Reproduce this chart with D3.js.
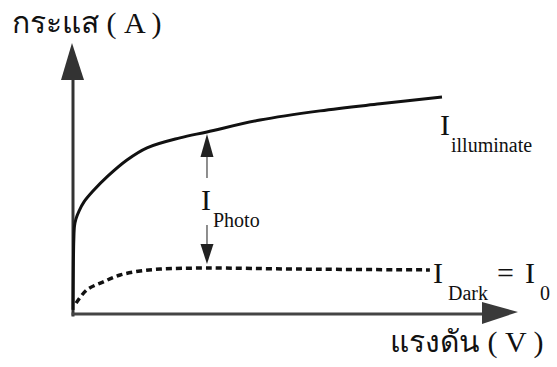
<!DOCTYPE html>
<meta charset="utf-8">
<title>I-V</title>
<style>
body { margin: 0; background: #fff; font-family: "Times New Roman", "Liberation Serif", serif; }
</style>
<body></body>
<script src="https://cdn.jsdelivr.net/npm/d3@7"></script>
<script>
var width = 557,
    height = 367;

// voltage (arbitrary units) and current readings for each curve
var illumV = [0, 0.007, 0.018, 0.034, 0.067, 0.135, 0.247, 0.449, 0.787, 1.213, 1.663, 2.404, 3.011, 4.202, 5.551, 6.899, 8.292];
var illumI = [0.19, 1.67, 2.78, 3.30, 3.56, 3.85, 4.19, 4.59, 5.15, 5.74, 6.19, 6.56, 6.78, 7.22, 7.56, 7.82, 8.07];
var darkV = [0.07, 0.31, 0.67, 1.06, 1.51, 1.96, 3.01, 5.10, 8.02];
var darkI = [0.44, 0.93, 1.22, 1.48, 1.63, 1.70, 1.74, 1.70, 1.67];
var photoV = 3.011, photoTop = 6.78, photoBot = 1.74; // I_Photo arrow

var svg = d3.select("body").append("svg")
    .attr("width", width)
    .attr("height", height)
    .attr("font-family", "Times New Roman, Liberation Serif, serif");

var x = d3.scaleLinear().domain([0, 10]).range([73, 518]);
var y = d3.scaleLinear().domain([0, 10]).range([315, 45]);

var line = d3.line()
    .x(function(d) { return x(d[0]); })
    .y(function(d) { return y(d[1]); })
    .curve(d3.curveCatmullRom.alpha(0.5));

// axes (no ticks, just arrows)
svg.append("line")
    .attr("x1", x(0)).attr("y1", y(0) + 1.5)
    .attr("x2", x(0)).attr("y2", 80)
    .attr("stroke", "#333").attr("stroke-width", 3);
svg.append("path")
    .attr("d", "M" + (x(0) - 12) + ",80L" + (x(0) - 1) + ",43L" + (x(0) + 11) + ",80Z")
    .attr("fill", "#333");

svg.append("line")
    .attr("x1", x(0) - 1.5).attr("y1", 314)
    .attr("x2", 484).attr("y2", 314)
    .attr("stroke", "#444").attr("stroke-width", 3);
svg.append("path")
    .attr("d", "M482,302L" + x(10) + ",312L482,324Z")
    .attr("fill", "#3a3a3a");

// curves
svg.append("path")
    .datum(d3.zip(illumV, illumI))
    .attr("d", line)
    .attr("fill", "none")
    .attr("stroke", "#111")
    .attr("stroke-width", 3);

svg.append("path")
    .datum(d3.zip(darkV, darkI))
    .attr("d", line)
    .attr("fill", "none")
    .attr("stroke", "#111")
    .attr("stroke-width", 3.5)
    .attr("stroke-dasharray", "6,4");

// I_photo double arrow
var ax = x(photoV),
    aTop = y(photoTop) + 2,
    aBot = y(photoBot) - 4;
svg.append("path")
    .attr("d", "M" + ax + "," + aTop + "L" + (ax + 6.5) + "," + (aTop + 23) + "L" + (ax - 6.5) + "," + (aTop + 23) + "Z")
    .attr("fill", "#222");
svg.append("line")
    .attr("x1", ax).attr("y1", aTop + 23).attr("x2", ax).attr("y2", 178)
    .attr("stroke", "#444").attr("stroke-width", 1.2);
svg.append("line")
    .attr("x1", ax).attr("y1", 225).attr("x2", ax).attr("y2", aBot - 20)
    .attr("stroke", "#444").attr("stroke-width", 1.2);
svg.append("path")
    .attr("d", "M" + ax + "," + aBot + "L" + (ax + 6.5) + "," + (aBot - 20) + "L" + (ax - 6.5) + "," + (aBot - 20) + "Z")
    .attr("fill", "#222");

// labels
function label(tx, ty, s, size) {
  var t = svg.append("text")
      .attr("x", tx).attr("y", ty)
      .attr("font-size", size)
      .attr("fill", "#111")
      .text(s);
  t.node().setAttribute("font-family", "serif");
  return t;
}

label(12, 33, "กระแส ( A )", 30);
label(390, 352, "แรงดัน ( V )", 30);

label(440, 135, "I", 30);
label(451, 152, "illuminate", 20);

label(201, 210, "I", 30);
label(213, 227, "Photo", 20);

label(433, 283, "I", 30);
label(448, 300, "Dark", 20);
label(497, 283, "=", 30);
label(525, 283, "I", 30);
label(540, 300, "0", 20);
</script>
